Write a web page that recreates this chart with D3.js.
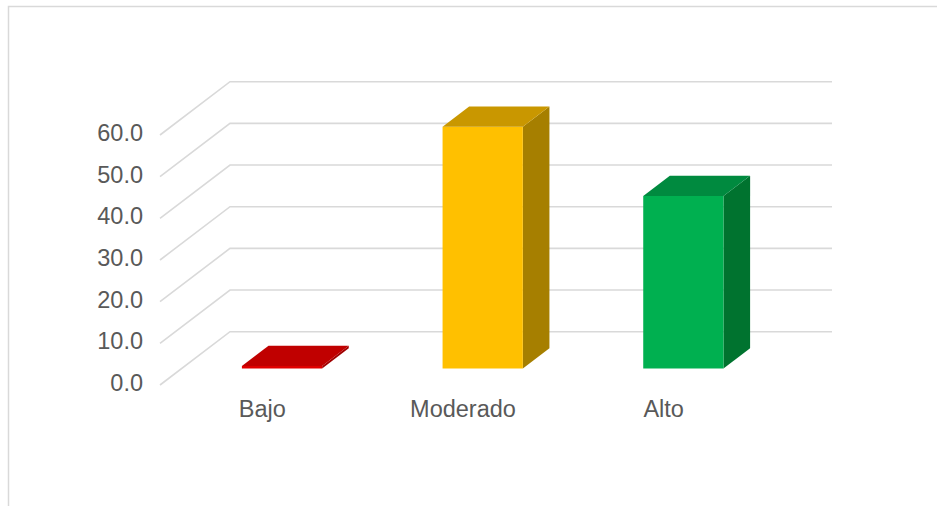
<!DOCTYPE html>
<html>
<head>
<meta charset="utf-8">
<script src="https://cdn.jsdelivr.net/npm/d3@7"></script>
<style>
  html, body { margin: 0; padding: 0; background: #ffffff; }
  svg { display: block; }
  text { font-family: "Liberation Sans", Arial, sans-serif; fill: #595959; }
</style>
</head>
<body>
<svg id="chart" width="937" height="506"></svg>
<script>
// Nivel de riesgo (%)
const categories = ["Bajo", "Moderado", "Alto"];
const values = [0.6, 58.0, 41.4];
const yTicks = [0, 10, 20, 30, 40, 50, 60];
const frontColors = ["#e00000", "#ffc000", "#00b050"];
const topColors = ["#c00000", "#c99700", "#008a3f"];
const sideColors = ["#a00000", "#a67f00", "#00732f"];

const svg = d3.select("#chart");

// outer frame
svg.append("rect")
  .attr("x", 8.5).attr("y", 6.5)
  .attr("width", 1200).attr("height", 1200)
  .attr("fill", "none").attr("stroke", "#d9d9d9").attr("stroke-width", 1.5);

// floor front edge and perspective depth vector
const x0 = 160, x1 = 762;
const depth = { dx: 70, dy: -53.3 };
const barDepth0 = 0.31, barDepth1 = 0.69;

const x = d3.scaleBand().domain(categories).range([x0, x1])
  .paddingInner(0.6).paddingOuter(0.3);
const y = d3.scaleLinear().domain([0, 60]).range([385, 135]);

// gridlines: side wall diagonal + back wall horizontal
const grid = svg.append("g").attr("stroke", "#d9d9d9").attr("stroke-width", 1.6).attr("fill", "none");
yTicks.forEach(v => {
  const yf = y(v), yb = y(v) + depth.dy;
  grid.append("path")
    .attr("d", `M${x0},${yf}L${x0 + depth.dx},${yb}L${x1 + depth.dx},${yb}`);
});

// y-axis labels
svg.append("g").selectAll("text").data(yTicks).join("text")
  .attr("x", 143).attr("y", d => y(d) - 2)
  .attr("text-anchor", "end").attr("dominant-baseline", "central")
  .attr("font-size", 23.5)
  .text(d => d.toFixed(1));

// 3D bars
const bars = svg.append("g");
categories.forEach((c, i) => {
  const ox = depth.dx * barDepth0, oy = depth.dy * barDepth0;
  const bx = depth.dx * (barDepth1 - barDepth0), by = depth.dy * (barDepth1 - barDepth0);
  const l = x(c) + ox, r = x(c) + x.bandwidth() + ox;
  const b = y(0) + oy, t = y(values[i]) + oy;
  const g = bars.append("g");
  // right side
  g.append("path").attr("fill", sideColors[i])
    .attr("d", `M${r},${b}L${r + bx},${b + by}L${r + bx},${t + by}L${r},${t}Z`);
  // front
  g.append("path").attr("fill", frontColors[i])
    .attr("d", `M${l},${b}L${r},${b}L${r},${t}L${l},${t}Z`);
  // top
  g.append("path").attr("fill", topColors[i])
    .attr("d", `M${l},${t}L${r},${t}L${r + bx},${t + by}L${l + bx},${t + by}Z`);
});

// category labels
svg.append("g").selectAll("text").data(categories).join("text")
  .attr("x", d => x(d) + x.bandwidth() / 2 + 2)
  .attr("y", 417)
  .attr("text-anchor", "middle")
  .attr("font-size", 23.5)
  .text(d => d);
</script>
</body>
</html>
